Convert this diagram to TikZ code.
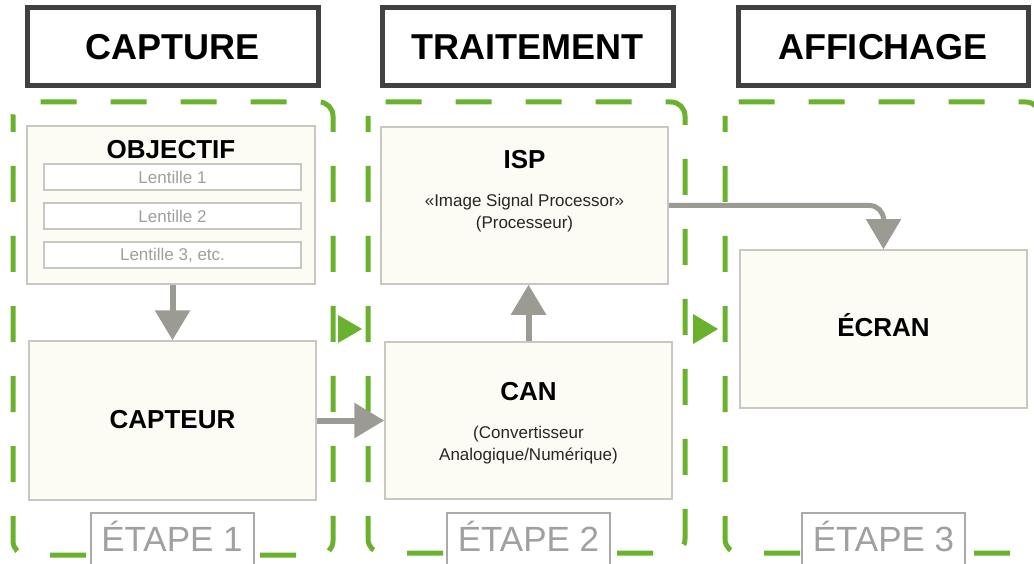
\documentclass[tikz,border=0pt]{standalone}
\usepackage{fontspec}
\setmainfont{Liberation Sans}
\usetikzlibrary{arrows.meta}
\definecolor{vert}{RGB}{106,178,46}
\definecolor{titlegray}{RGB}{64,64,64}
\definecolor{boxfill}{RGB}{252,252,244}
\definecolor{boxline}{RGB}{200,200,192}
\definecolor{arrowgray}{RGB}{155,155,147}
\definecolor{lightgray}{RGB}{160,160,160}
\definecolor{stepline}{RGB}{170,170,170}
\tikzset{
  titlebox/.style={draw=titlegray, line width=5pt, fill=white, inner sep=0pt,
    font=\fontsize{36}{40}\selectfont\bfseries},
  dashedframe/.style={draw=vert, line width=5pt, dash pattern=on 36pt off 34pt,
    rounded corners=14pt},
  innerbox/.style={draw=boxline, line width=1.5pt, fill=boxfill, inner sep=0pt},
  lensbox/.style={draw=boxline, line width=1.2pt, fill=white, inner sep=0pt,
    minimum width=257pt, minimum height=26pt, text=lightgray,
    font=\fontsize{17}{20}\selectfont},
  headtext/.style={font=\fontsize{26}{30}\selectfont\bfseries, inner sep=0pt},
  subtext/.style={font=\fontsize{17}{21.5}\selectfont, align=center, inner sep=0pt, text=black!85},
  stepbox/.style={draw=stepline, line width=2pt, fill=white, anchor=north,
    inner xsep=0pt, inner ysep=12pt, text height=26pt, text depth=30pt,
    minimum width=163pt, text=lightgray,
    font=\fontsize{35}{40}\selectfont},
  garrow/.style={draw=arrowgray, line width=6pt,
    -{Triangle[width=34pt,length=30pt]}, color=arrowgray},
  greentri/.style={fill=vert, draw=none}
}
\begin{document}
\begin{tikzpicture}[x=1pt,y=-1pt]
\useasboundingbox (0,0) rectangle (1034,564);
\clip (0,0) rectangle (1034,564);

% title boxes
\node[titlebox, minimum width=291pt, minimum height=78pt] (capture) at (172.5,47) {CAPTURE};
\node[titlebox, minimum width=291pt, minimum height=78pt] (traitement) at (527.5,47) {TRAITEMENT};
\node[titlebox, minimum width=290pt, minimum height=78pt] (affichage) at (883,47) {AFFICHAGE};

% dashed frames
\draw[dashedframe, dash phase=20pt] (13,102) rectangle (333,555);
\draw[dashedframe, dash phase=20pt] (368,102) rectangle (685,553);
\draw[dashedframe, dash phase=20pt] (725,102) rectangle (1040,553);

% green triangles
\fill[greentri] (338,315) -- (338,343) -- (362,329) -- cycle;
\fill[greentri] (693,314) -- (693,344) -- (718,329) -- cycle;

% step 1
\node[innerbox, minimum width=288pt, minimum height=158pt] (objectif) at (171,205) {};
\node[headtext] (objtitle) at (171,150) {OBJECTIF};
\node[lensbox] (l1) at (172.5,177) {Lentille 1};
\node[lensbox] (l2) at (172.5,216) {Lentille 2};
\node[lensbox] (l3) at (172.5,255) {Lentille 3, etc.};

\node[innerbox, minimum width=287pt, minimum height=159pt] (capteur) at (172.5,420.5) {};
\node[headtext] (capteurtxt) at (172.5,420) {CAPTEUR};

% step 2
\node[innerbox, minimum width=287pt, minimum height=157pt] (isp) at (524.5,205.5) {};
\node[headtext] (isptitle) at (524.5,160) {ISP};
\node[subtext] (ispsub) at (524.5,213) {«Image Signal Processor»\\(Processeur)};

\node[innerbox, minimum width=287pt, minimum height=157pt] (can) at (528.5,420.5) {};
\node[headtext] (cantitle) at (528.5,392) {CAN};
\node[subtext] (cansub) at (528.5,445) {(Convertisseur\\Analogique/Numérique)};

% step 3
\node[innerbox, minimum width=287pt, minimum height=158pt] (ecran) at (883.5,329) {};
\node[headtext] (ecrantxt) at (883.5,325) {ÉCRAN};

% arrows
\draw[garrow] (objectif.south -| capteur.north) -- (capteur.north);
\draw[garrow] (capteur.east) -- (can.west);
\draw[garrow] (can.north) -- (can.north |- isp.south);
\draw[garrow, line width=5pt, rounded corners=14pt] (isp.east) -- (isp.east -| ecran.north) -- (ecran.north);

% step labels
\node[stepbox] (etape1) at (172,512) {ÉTAPE 1};
\node[stepbox] (etape2) at (528.5,512) {ÉTAPE 2};
\node[stepbox] (etape3) at (883.5,512) {ÉTAPE 3};
\end{tikzpicture}
\end{document}
